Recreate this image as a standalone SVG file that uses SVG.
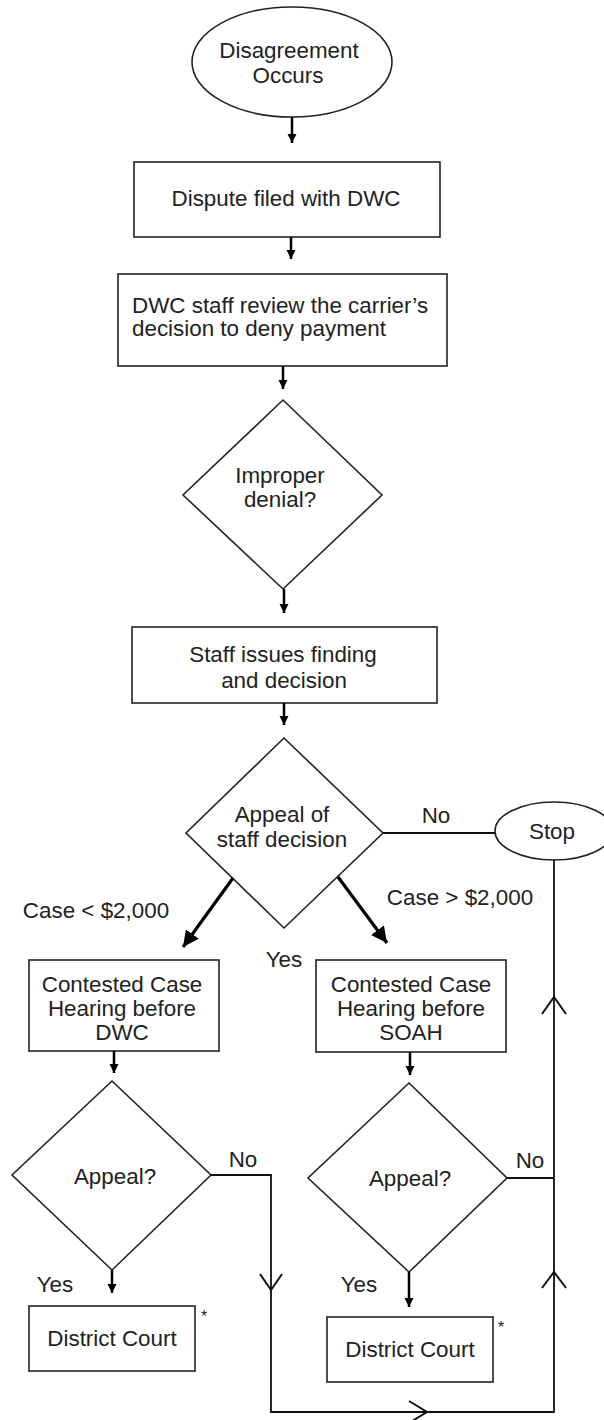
<svg xmlns="http://www.w3.org/2000/svg" width="604" height="1420" viewBox="0 0 604 1420">
<defs>
<style>
.shape{fill:#fff;stroke:#222;stroke-width:1.6}
.t{font-family:"Liberation Sans",Arial,sans-serif;font-size:22.4px;fill:#222;text-anchor:middle}
.tl{text-anchor:start}
.ar{fill:none;stroke:#000;stroke-width:2.5}
.ard{fill:none;stroke:#000;stroke-width:3.2}
.ln{fill:none;stroke:#111;stroke-width:1.8}
.ch{fill:none;stroke:#111;stroke-width:2}
</style>
<marker id="ah" viewBox="0 0 10 10" refX="10" refY="5" markerUnits="userSpaceOnUse" markerWidth="9" markerHeight="13" orient="auto"><path d="M0,0 L10,5 L0,10 z" fill="#000"/></marker>
<marker id="ahd" viewBox="0 0 10 10" refX="10" refY="5" markerUnits="userSpaceOnUse" markerWidth="16" markerHeight="16" orient="auto"><path d="M0,0 L10,5 L0,10 z" fill="#000"/></marker>
</defs>
<g id="n-start"><ellipse class="shape" cx="292" cy="62" rx="100" ry="55"/><text class="t" x="289" y="58">Disagreement</text><text class="t" x="288" y="83">Occurs</text></g>
<g id="n-filed"><rect class="shape" x="134" y="162" width="306" height="75"/><text class="t" x="286" y="206">Dispute filed with DWC</text></g>
<g id="n-review"><rect class="shape" x="118" y="274" width="329" height="92"/><text class="t tl" x="132" y="313">DWC staff review the carrier’s</text><text class="t tl" x="132" y="336">decision to deny payment</text></g>
<g id="n-improper"><polygon class="shape" points="283,400 382,495 283,589 183,495"/><text class="t" x="280" y="483">Improper</text><text class="t" x="280" y="507">denial?</text></g>
<g id="n-finding"><rect class="shape" x="132" y="627" width="305" height="76"/><text class="t" x="283" y="662">Staff issues finding</text><text class="t" x="284" y="688">and decision</text></g>
<g id="n-appeal1"><polygon class="shape" points="284,738 383,833 284,928 186,833"/><text class="t" x="282" y="822">Appeal of</text><text class="t" x="282" y="847">staff decision</text></g>
<g id="n-stop"><ellipse class="shape" cx="554" cy="831" rx="59" ry="29"/><text class="t" x="552" y="839">Stop</text></g>
<g id="n-ccdwc"><rect class="shape" x="29" y="960" width="190" height="91"/><text class="t" x="122" y="992">Contested Case</text><text class="t" x="122" y="1016">Hearing before</text><text class="t" x="122" y="1040">DWC</text></g>
<g id="n-ccsoah"><rect class="shape" x="316" y="960" width="190" height="92"/><text class="t" x="411" y="992">Contested Case</text><text class="t" x="411" y="1016">Hearing before</text><text class="t" x="411" y="1040">SOAH</text></g>
<g id="n-appeal2"><polygon class="shape" points="112,1081 211,1175 112,1270 12,1175"/><text class="t" x="115" y="1184">Appeal?</text></g>
<g id="n-appeal3"><polygon class="shape" points="409,1083 507,1178 409,1272 308,1178"/><text class="t" x="410" y="1186">Appeal?</text></g>
<g id="n-court1"><rect class="shape" x="29" y="1306" width="166" height="65"/><text class="t" x="112" y="1346">District Court</text><text class="t" x="204" y="1322" style="font-size:16px">*</text></g>
<g id="n-court2"><rect class="shape" x="327" y="1317" width="166" height="65"/><text class="t" x="410" y="1357">District Court</text><text class="t" x="501" y="1333" style="font-size:16px">*</text></g>
<g id="connectors">
<line class="ar" x1="292" y1="117" x2="292" y2="143" marker-end="url(#ah)"/>
<line class="ar" x1="291" y1="237" x2="291" y2="259" marker-end="url(#ah)"/>
<line class="ar" x1="283" y1="366" x2="283" y2="389" marker-end="url(#ah)"/>
<line class="ar" x1="284" y1="589" x2="284" y2="613" marker-end="url(#ah)"/>
<line class="ar" x1="284" y1="703" x2="284" y2="725" marker-end="url(#ah)"/>
<line class="ard" x1="233" y1="878" x2="183" y2="947" marker-end="url(#ahd)"/>
<line class="ard" x1="338" y1="877" x2="387" y2="943" marker-end="url(#ahd)"/>
<line class="ar" x1="114" y1="1051" x2="114" y2="1073" marker-end="url(#ah)"/>
<line class="ar" x1="410" y1="1052" x2="410" y2="1075" marker-end="url(#ah)"/>
<line class="ar" x1="112" y1="1270" x2="112" y2="1293" marker-end="url(#ah)"/>
<line class="ar" x1="409" y1="1272" x2="409" y2="1307" marker-end="url(#ah)"/>
<line class="ln" x1="383" y1="833" x2="495" y2="833"/>
<polyline class="ln" points="554,860 554,1412 271,1412 271,1175 211,1175"/>
<line class="ln" x1="507" y1="1178" x2="554" y2="1178"/>
<polyline class="ch" points="542,1014 554,997 566,1014"/>
<polyline class="ch" points="542,1288 554,1272 566,1288"/>
<polyline class="ch" points="260,1274 271,1290 282,1274"/>
<polyline class="ch" points="409,1401 427,1412 409,1423"/>
<text class="t" x="436" y="823">No</text>
<text class="t" x="96" y="918">Case &lt; $2,000</text>
<text class="t" x="460" y="905">Case &gt; $2,000</text>
<text class="t" x="284" y="967">Yes</text>
<text class="t" x="243" y="1167">No</text>
<text class="t" x="530" y="1168">No</text>
<text class="t" x="55" y="1292">Yes</text>
<text class="t" x="359" y="1292">Yes</text>
</g>
</svg>
